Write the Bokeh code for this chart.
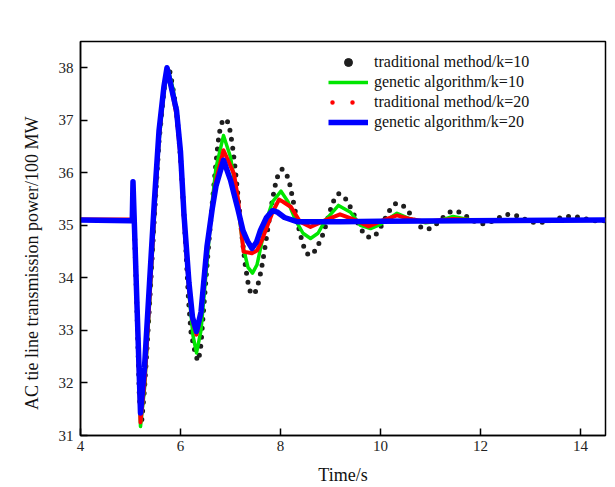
import numpy as np
from bokeh.plotting import figure
from bokeh.models import Legend, LegendItem, Range1d, FixedTicker
from bokeh.embed import file_html
from bokeh.resources import INLINE

# ---------------- data ----------------
# traditional method / k=10 (black dotted curve), sampled every DOT_STEP seconds from DOT_START
DOT_START = 5.08
DOT_STEP = 0.0492
trad_k10 = [
    34.90, 33.40, 31.70, 31.30, 31.85, 32.60, 33.40, 34.25, 35.10, 35.87,
    36.63, 37.10, 37.58, 37.85, 38.02, 37.78, 37.50, 37.20, 36.70, 36.10,
    35.30, 34.45, 33.55, 32.95, 32.72, 32.50, 32.42, 32.72, 33.35, 33.95,
    34.55, 35.10, 35.62, 36.13, 36.59, 36.90, 37.00, 37.03, 36.96, 36.77,
    36.45, 36.05, 35.59, 35.12, 34.66, 34.26, 33.94, 33.75, 33.68, 33.72,
    33.84, 34.03, 34.28, 34.57, 34.88, 35.18, 35.47, 35.72, 35.91, 36.03,
    36.07, 36.04, 35.95, 35.81, 35.58, 35.35, 35.12, 34.90, 34.72, 34.57,
    34.47, 34.43, 34.44, 34.49, 34.57, 34.66, 34.76, 34.88, 35.04, 35.20,
    35.35, 35.47, 35.56, 35.60, 35.59, 35.55, 35.49, 35.42, 35.32, 35.23,
    35.12, 35.03, 34.94, 34.86, 34.81, 34.78, 34.77, 34.78, 34.82, 34.88,
    34.96, 35.05, 35.14, 35.23, 35.31, 35.37, 35.41, 35.42, 35.41, 35.38,
    35.34, 35.29, 35.22, 35.16, 35.09, 35.03, 34.98, 34.95, 34.93, 34.93,
    34.94, 34.97, 35.00, 35.04, 35.09, 35.13, 35.18, 35.22, 35.25, 35.26,
    35.27, 35.27, 35.25, 35.23, 35.20, 35.17, 35.14, 35.11, 35.08, 35.06,
    35.04, 35.03, 35.03, 35.04, 35.05, 35.07, 35.09, 35.12, 35.14, 35.17,
    35.19, 35.20, 35.21, 35.21, 35.20, 35.19, 35.17, 35.15, 35.13, 35.11,
    35.09, 35.07, 35.06, 35.05, 35.05, 35.05, 35.06, 35.07, 35.08, 35.09,
    35.10, 35.12, 35.13, 35.14, 35.15, 35.16, 35.17, 35.17, 35.17, 35.17,
    35.16, 35.15, 35.14, 35.13, 35.12, 35.11, 35.10, 35.09, 35.09, 35.09,
    35.09, 35.09,
]

# genetic algorithm / k=10 (green)
t_ga10 = [4.0, 5.03, 5.05, 5.20, 5.28, 5.38, 5.48, 5.57, 5.67, 5.75, 5.85, 5.93,
          6.01, 6.08, 6.18, 6.25, 6.32, 6.41, 6.53, 6.64, 6.71, 6.86, 7.00, 7.12,
          7.25, 7.35, 7.44, 7.53, 7.62, 7.72, 7.84, 8.01, 8.15, 8.30, 8.45, 8.60,
          8.75, 8.90, 9.16, 9.40, 9.60, 9.80, 10.00, 10.33, 10.60, 10.90, 11.15,
          11.45, 11.70, 12.00, 14.5]
ga_k10 = [35.10, 35.10, 35.83, 31.17, 31.90, 33.50, 35.20, 36.60, 37.55, 37.98, 37.60, 37.10,
          36.20, 35.00, 33.60, 32.90, 32.57, 33.00, 34.30, 35.50, 36.10, 36.71, 36.30, 35.60,
          34.60, 34.20, 34.09, 34.25, 34.65, 35.10, 35.45, 35.65, 35.45, 35.10, 34.85, 34.75,
          34.85, 35.10, 35.38, 35.25, 35.00, 34.94, 35.02, 35.23, 35.12, 35.05, 35.08,
          35.17, 35.12, 35.08, 35.10]

# traditional method / k=20 (red)
t_trad20 = [4.0, 5.03, 5.05, 5.20, 5.28, 5.38, 5.48, 5.57, 5.67, 5.73, 5.83, 5.92,
            6.00, 6.07, 6.17, 6.24, 6.32, 6.41, 6.53, 6.64, 6.71, 6.86, 7.07, 7.15,
            7.26, 7.43, 7.53, 7.62, 7.72, 7.84, 7.97, 8.05, 8.21, 8.39, 8.60, 8.90,
            9.19, 9.50, 9.76, 10.06, 10.33, 10.60, 10.90, 11.45, 11.80, 14.5]
trad_k20 = [35.11, 35.11, 35.83, 31.25, 32.00, 33.60, 35.30, 36.70, 37.60, 37.98, 37.55, 37.10,
            36.30, 35.10, 33.80, 33.20, 32.92, 33.30, 34.50, 35.40, 35.85, 36.43, 35.98, 35.50,
            34.50, 34.47, 34.52, 34.70, 34.95, 35.25, 35.49, 35.45, 35.35, 35.07, 34.97, 35.10,
            35.21, 35.10, 34.98, 35.10, 35.19, 35.12, 35.07, 35.12, 35.10, 35.10]

# genetic algorithm / k=20 (blue)
t_ga20 = [4.0, 5.01, 5.035, 5.05, 5.20, 5.28, 5.38, 5.48, 5.57, 5.67, 5.73, 5.83, 5.92,
          6.00, 6.07, 6.17, 6.24, 6.32, 6.41, 6.53, 6.64, 6.71, 6.86, 7.00, 7.15,
          7.25, 7.34, 7.43, 7.52, 7.60, 7.72, 7.84, 7.94, 8.08, 8.33, 9.20, 10.0, 14.5]
ga_k20 = [35.10, 35.09, 35.10, 35.83, 31.43, 32.30, 33.90, 35.50, 36.80, 37.65, 38.00, 37.57, 37.19,
          36.40, 35.20, 33.90, 33.25, 32.98, 33.35, 34.60, 35.35, 35.75, 36.24, 35.86, 35.30,
          34.90, 34.70, 34.56, 34.68, 34.91, 35.15, 35.28, 35.25, 35.15, 35.07, 35.07, 35.08, 35.10]

x_ticks = [4, 6, 8, 10, 12, 14]
y_ticks = [31, 32, 33, 34, 35, 36, 37, 38]
legend_labels = ["traditional method/k=10", "genetic algorithm/k=10",
                 "traditional method/k=20", "genetic algorithm/k=20"]

x_title = "Time/s"
y_title = "AC tie line transmission power/100 MW"

# ---------------- figure ----------------
FONT = "Liberation Serif"

p = figure(width=615, height=487, output_backend="svg", toolbar_location=None,
           x_range=Range1d(4, 14.5), y_range=Range1d(31, 38.5),
           min_border_left=80, min_border_right=10, min_border_top=41, min_border_bottom=51)
p.xgrid.visible = False
p.ygrid.visible = False
p.outline_line_color = "black"
p.outline_line_width = 1.5
p.outline_line_alpha = 1.0
p.background_fill_color = "white"
p.border_fill_color = "white"

for ax in (p.xaxis[0], p.yaxis[0]):
    ax.axis_line_color = "black"
    ax.axis_line_width = 1.5
    ax.major_tick_line_color = "black"
    ax.major_tick_line_width = 1.5
    ax.major_tick_in = 7
    ax.major_tick_out = 0
    ax.minor_tick_line_color = None
    ax.major_label_text_font = FONT
    ax.major_label_text_font_size = "15px"
    ax.major_label_text_color = "#222222"
    ax.axis_label_text_font = FONT
    ax.axis_label_text_font_size = "18px"
    ax.axis_label_text_font_style = "normal"
    ax.axis_label_text_color = "#111111"

p.xaxis[0].ticker = FixedTicker(ticks=x_ticks)
p.yaxis[0].ticker = FixedTicker(ticks=y_ticks)
p.xaxis[0].major_label_standoff = 5
p.yaxis[0].major_label_standoff = 7
p.xaxis[0].axis_label = x_title
# trailing no-break spaces shift the rotated title down to where the reference has it
p.yaxis[0].axis_label = y_title + "\u00a0" * 11
p.xaxis[0].axis_label_standoff = 11
p.yaxis[0].axis_label_standoff = 14

t_dots = np.round(DOT_START + DOT_STEP * np.arange(len(trad_k10)), 4)

# black series drawn as an Origin-style dotted line (round dots along the path)
r_dots = p.line(t_dots, trad_k10, line_color="#1e1e1e", line_width=5,
                line_dash="0 9", line_cap="round", line_join="round")
r_g10 = p.line(t_ga10, ga_k10, line_color="#00e600", line_width=3.5, line_join="round")
r_r20 = p.line(t_trad20, trad_k20, line_color="#ff0000", line_width=4, line_join="round")
r_b20 = p.line(t_ga20, ga_k20, line_color="#0000ff", line_width=5.5, line_join="round")

# legend keys (placed outside the visible x range)
r_dots_key = p.scatter(x=[3.0], y=[35.1], size=5, marker="circle",
                       fill_color="#1e1e1e", line_color="#1e1e1e")
r_r20_key = p.line(x=[3.0, 3.5], y=[35.1, 35.1], line_color="#ff0000", line_width=4.5,
                   line_dash="0 20", line_dash_offset=16, line_cap="round")

legend = Legend(items=[
    LegendItem(label=legend_labels[0], renderers=[r_dots_key]),
    LegendItem(label=legend_labels[1], renderers=[r_g10]),
    LegendItem(label=legend_labels[2], renderers=[r_r20_key]),
    LegendItem(label=legend_labels[3], renderers=[r_b20]),
], location=(242, 297))
legend.label_text_font = FONT
legend.label_text_font_size = "16px"
legend.label_text_color = "#111111"
legend.glyph_width = 40
legend.glyph_height = 20
legend.label_height = 20
legend.label_standoff = 6
legend.spacing = 0
legend.padding = 6
legend.margin = 0
legend.border_line_alpha = 0
legend.background_fill_alpha = 0
p.add_layout(legend, "center")

open("out.html", "w").write(file_html(p, INLINE))
